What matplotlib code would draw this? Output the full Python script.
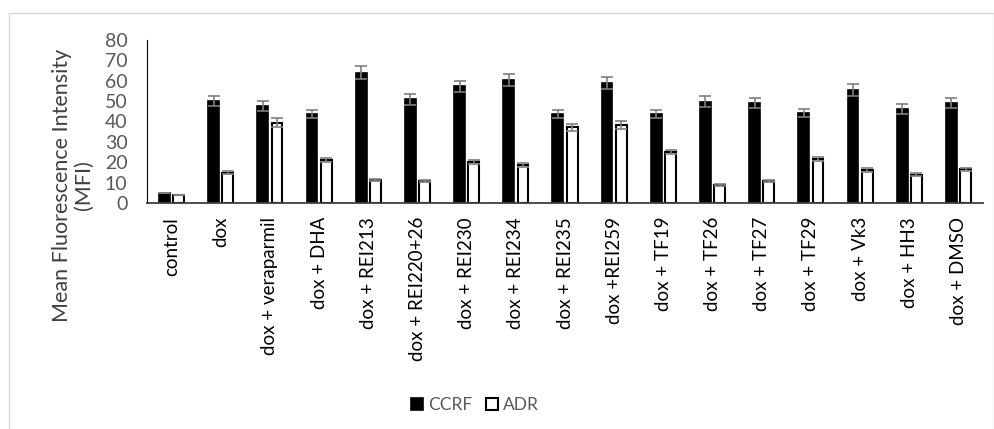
import numpy as np
import matplotlib.pyplot as plt
import matplotlib.patches as mpatches

plt.rcParams['font.family'] = ['Lato', 'DejaVu Sans']

# data
categories = ['control', 'dox', 'dox + veraparmil', 'dox + DHA', 'dox + REI213',
              'dox + REI220+26', 'dox + REI230', 'dox + REI234', 'dox + REI235',
              'dox +REI259', 'dox + TF19', 'dox + TF26', 'dox + TF27', 'dox + TF29',
              'dox + Vk3', 'dox + HH3', 'dox + DMSO']
ccrf = [5.0, 50.0, 47.5, 43.6, 64.0, 50.8, 57.3, 60.3, 43.6, 59.0, 43.6, 49.8, 49.0, 44.0, 55.4, 46.2, 49.2]
ccrf_err = [0.0, 2.5, 2.5, 2.0, 3.0, 2.5, 2.7, 3.0, 2.0, 3.0, 2.0, 2.5, 2.5, 2.0, 2.9, 2.4, 2.5]
adr = [3.9, 14.9, 39.5, 21.2, 11.1, 11.0, 20.1, 18.6, 37.2, 38.4, 25.2, 8.8, 10.8, 21.4, 16.2, 13.9, 16.5]
adr_err = [0.0, 0.7, 2.0, 1.0, 0.5, 0.5, 1.0, 0.8, 1.8, 2.0, 1.0, 0.3, 0.4, 1.0, 0.8, 0.6, 0.8]

x = np.arange(len(categories))
w = 0.22

fig = plt.figure(figsize=(9.95, 4.29), dpi=100)
ax = fig.add_axes([0.1477, 0.5268, 0.988 - 0.1477, 0.9068 - 0.5268])

err_kw = dict(ecolor='#7f7f7f', elinewidth=1.2, capsize=4, capthick=1.2)
ax.bar(x - 0.145, ccrf, w, yerr=ccrf_err, color='black', edgecolor='black',
       linewidth=1.2, label='CCRF', error_kw=err_kw)
ax.bar(x + 0.145, adr, w, yerr=adr_err, color='white', edgecolor='black',
       linewidth=1.5, label='ADR', error_kw=err_kw)

ax.set_xlim(-0.5, len(categories) - 0.5)
ax.set_ylim(0, 80)
ax.set_yticks(np.arange(0, 81, 10))
ax.tick_params(axis='y', length=0, pad=14, labelsize=14, labelcolor='#595959')
ax.tick_params(axis='x', length=0, pad=10)
ax.set_xticks(x)
ax.set_xticklabels(categories, rotation=90, fontsize=13.5, color='black')

# y title sits lower than the plot centre, as in the reference
fig.text(73 / 995, 1 - 185 / 429, 'Mean Fluorescence Intensity\n(MFI)', rotation=90,
         ha='center', va='center', multialignment='center', fontsize=15.5,
         color='#404040', linespacing=1.1)

for s in ['top', 'right']:
    ax.spines[s].set_visible(False)
ax.spines['left'].set_color('black')
ax.spines['bottom'].set_color('#404040')
ax.spines['bottom'].set_linewidth(1.3)

leg = fig.legend(loc='center', bbox_to_anchor=(475 / 995, 1 - 405 / 429), ncol=2,
                 frameon=False, fontsize=12.5, handlelength=0.7, handleheight=0.7,
                 columnspacing=0.8, handletextpad=0.3, labelcolor='#595959')

# outer chart border
fig.patches.append(mpatches.Rectangle((9 / 995, -0.01), 985 / 995, 1.01 - 13 / 429,
                                      transform=fig.transFigure, fill=False,
                                      edgecolor='#d9d9d9', linewidth=1))

plt.savefig('out.png', dpi=100)
plt.close(fig)
